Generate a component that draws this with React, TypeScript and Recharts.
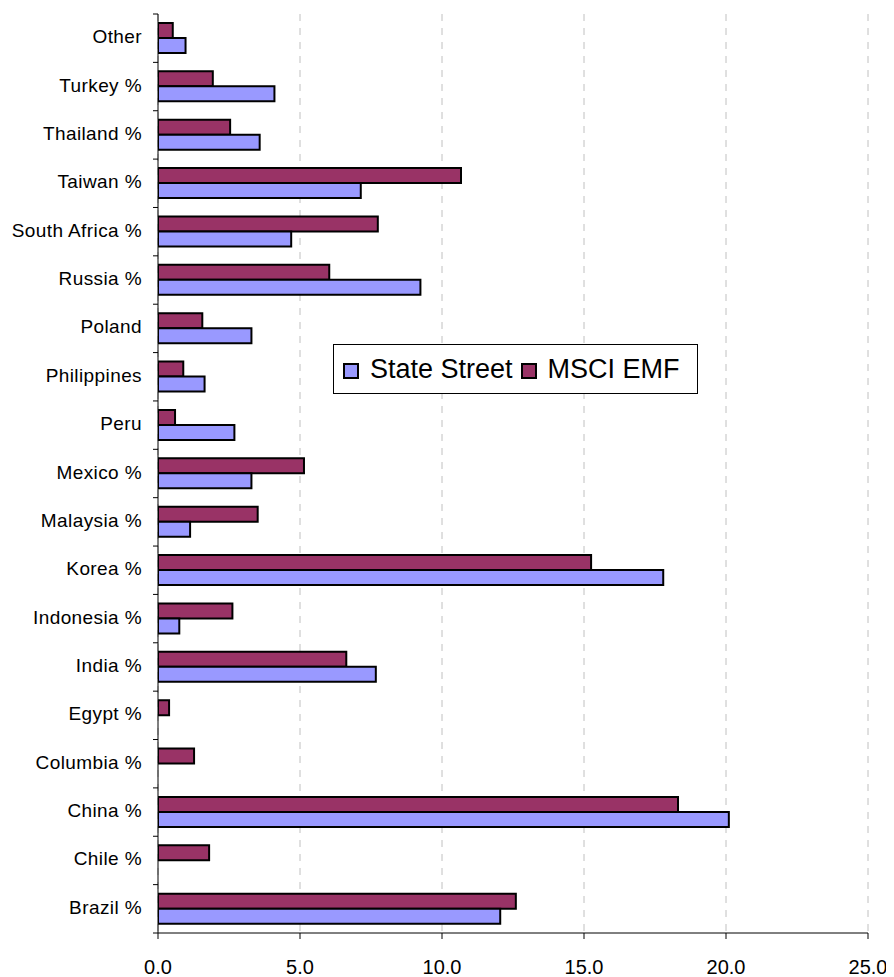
import React from 'react';
import { BarChart, Bar, XAxis, YAxis, CartesianGrid, Legend } from 'recharts';

const countries = [
  'Other', 'Turkey %', 'Thailand %', 'Taiwan %', 'South Africa %', 'Russia %', 'Poland',
  'Philippines', 'Peru', 'Mexico %', 'Malaysia %', 'Korea %', 'Indonesia %', 'India %',
  'Egypt %', 'Columbia %', 'China %', 'Chile %', 'Brazil %',
];
const stateStreet = [
  0.97, 4.1, 3.58, 7.14, 4.69, 9.24, 3.29,
  1.64, 2.69, 3.29, 1.13, 17.79, 0.75, 7.67,
  0, 0, 20.1, 0, 12.05,
];
const msciEmf = [
  0.52, 1.93, 2.54, 10.67, 7.74, 6.03, 1.56,
  0.89, 0.6, 5.14, 3.51, 15.25, 2.62, 6.63,
  0.39, 1.27, 18.31, 1.8, 12.6,
];
const xTicks = [0, 5, 10, 15, 20, 25];

const data = countries.map((name, i) => ({ name, ss: stateStreet[i], msci: msciEmf[i] }));

const FONT = '"Liberation Sans", Arial, sans-serif';
const W = 880;
const H = 969;
const MARGIN = { top: 6, right: 20, left: 0, bottom: 0 };
const Y_WIDTH = 150;
const X_HEIGHT = 44;
const PLOT_H = H - MARGIN.top - MARGIN.bottom - X_HEIGHT;
const BAND = PLOT_H / countries.length;

const CategoryTick = (props: any) => {
  const { y, payload } = props;
  const idx = payload.index;
  const axisX = MARGIN.left + Y_WIDTH;
  return (
    <g>
      <line x1={axisX - 5} x2={axisX} y1={y - BAND / 2} y2={y - BAND / 2} stroke="#000" />
      {idx === countries.length - 1 && (
        <line x1={axisX - 5} x2={axisX} y1={y + BAND / 2} y2={y + BAND / 2} stroke="#000" />
      )}
      <text
        x={axisX - 16}
        y={y + 5}
        textAnchor="end"
        fontSize={19}
        letterSpacing={0.4}
        fill="#000"
        fontFamily={FONT}
      >
        {payload.value}
      </text>
    </g>
  );
};

const renderLegend = (props: any) => {
  const items = [...(props.payload || [])].reverse();
  return (
    <div
      style={{
        width: 365,
        height: 50,
        boxSizing: 'border-box',
        border: '1px solid #000',
        background: '#fff',
        display: 'flex',
        alignItems: 'center',
        paddingLeft: 9,
        fontFamily: FONT,
        fontSize: 27,
        color: '#000',
      }}
    >
      {items.map((it: any, i: number) => (
        <div key={i} style={{ display: 'flex', alignItems: 'center', marginRight: i === 0 ? 8 : 0 }}>
          <span
            style={{
              width: 12,
              height: 12,
              border: '2px solid #000',
              background: it.color,
              display: 'inline-block',
              marginRight: 11,
              marginTop: 3,
            }}
          />
          <span>{it.value}</span>
        </div>
      ))}
    </div>
  );
};

export default function App() {
  return (
    <div style={{ width: W, height: H }}>
      <BarChart
        width={W}
        height={H}
        data={data}
        layout="vertical"
        margin={MARGIN}
        barGap={0}
        barSize={15}
      >
        <CartesianGrid horizontal={false} stroke="#c0c0c0" strokeDasharray="7 7" />
        <XAxis
          type="number"
          domain={[0, 25]}
          ticks={xTicks}
          tickFormatter={(v: number) => v.toFixed(1)}
          height={X_HEIGHT}
          stroke="#000"
          tickSize={6}
          tickMargin={21}
          tick={{ fill: '#000', fontSize: 20, fontFamily: FONT }}
          allowDataOverflow
        />
        <YAxis
          type="category"
          dataKey="name"
          width={Y_WIDTH}
          stroke="#000"
          tickLine={false}
          interval={0}
          tick={<CategoryTick />}
        />
        <Legend
          content={renderLegend}
          layout="horizontal"
          verticalAlign="middle"
          align="center"
          wrapperStyle={{ left: 325, top: 336, width: 365 }}
        />
        <Bar dataKey="msci" name="MSCI EMF" fill="#993366" stroke="#000" strokeWidth={2} isAnimationActive={false} />
        <Bar dataKey="ss" name="State Street" fill="#9999ff" stroke="#000" strokeWidth={2} isAnimationActive={false} />
      </BarChart>
    </div>
  );
}
